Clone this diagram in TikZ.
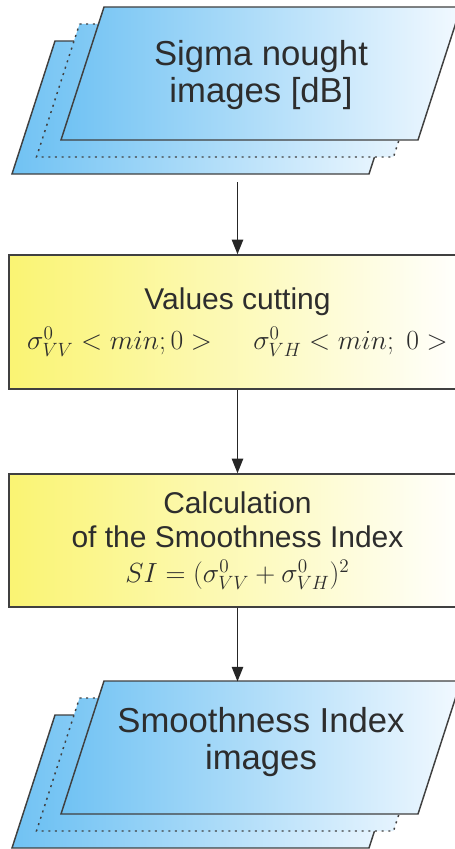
\documentclass[tikz,border=0pt]{standalone}
\usepackage{fontspec}
\setmainfont{Liberation Sans}
\usetikzlibrary{positioning,arrows.meta}
\definecolor{sheetblue}{RGB}{112,194,243}
\definecolor{sheetwhite}{RGB}{242,249,255}
\definecolor{boxyellow}{RGB}{250,244,115}
\definecolor{edgegray}{RGB}{64,64,64}
\definecolor{textgray}{RGB}{45,45,45}

\begin{document}
\begin{tikzpicture}[
    x=0.75pt, y=-0.75pt,
    edge/.style={draw=edgegray, line width=1.1pt},
    sheet/.style={edge, left color=sheetblue, right color=sheetwhite},
    dotsheet/.style={sheet, dash pattern=on 1.5pt off 3.5pt},
    sheettext/.style={align=center, text=textgray, font=\fontsize{26}{27.75}\selectfont},
    procbox/.style={edge, rectangle, left color=boxyellow, right color=white,
        minimum width=342.75pt, inner sep=0pt, align=center, text=textgray,
        font=\fontsize{22.5}{26}\selectfont},
    flow/.style={-{Triangle[length=11pt,width=8.5pt]}, line width=1.3pt, black!85}
]
\useasboundingbox (0,0) rectangle (454,849);

  % input images
  \draw[sheet] (55,41) -- (412,41) -- (369,174) -- (12,174) -- cycle;
  \draw[dotsheet] (79.5,24) -- (436.5,24) -- (393.5,157) -- (36.5,157) -- cycle;
  \draw[sheet] (104,7) -- (461,7) -- (418,140) -- (61,140) -- cycle;
  \node[sheettext] (sigma) at (261,75) {Sigma nought\\images [dB]};
  \coordinate (sigmaout) at (237.5,182);

  % processing steps
  \node[procbox, minimum height=100.5pt] (cut) at (237.5,322)
    {Values cutting\\[4pt]
     {\fontsize{21}{26}\selectfont
     $\sigma^0_{VV} < min; 0 >\hspace{1.2em}\sigma^0_{VH} < min;\ 0 >$}};
  \node[procbox, minimum height=99.75pt] (calc) at (237.5,540.5)
    {Calculation\\of the Smoothness Index\\
     {\fontsize{21}{24}\selectfont $SI = (\sigma^0_{VV} + \sigma^0_{VH})^2$}};

  % output images
  \begin{scope}[shift={(0,674)}]
  \draw[sheet] (55,41) -- (412,41) -- (369,174) -- (12,174) -- cycle;
  \draw[dotsheet] (79.5,24) -- (436.5,24) -- (393.5,157) -- (36.5,157) -- cycle;
  \draw[sheet] (104,7) -- (461,7) -- (418,140) -- (61,140) -- cycle;
  \node[sheettext] (smooth) at (261,68) {Smoothness Index\\images};
  \coordinate (smoothin) at (237.5,7.5);
  \end{scope}

\draw[flow] (sigmaout) -- (cut.north);
\draw[flow] (cut.south) -- (calc.north);
\draw[flow] (calc.south) -- (smoothin);
\end{tikzpicture}
\end{document}
